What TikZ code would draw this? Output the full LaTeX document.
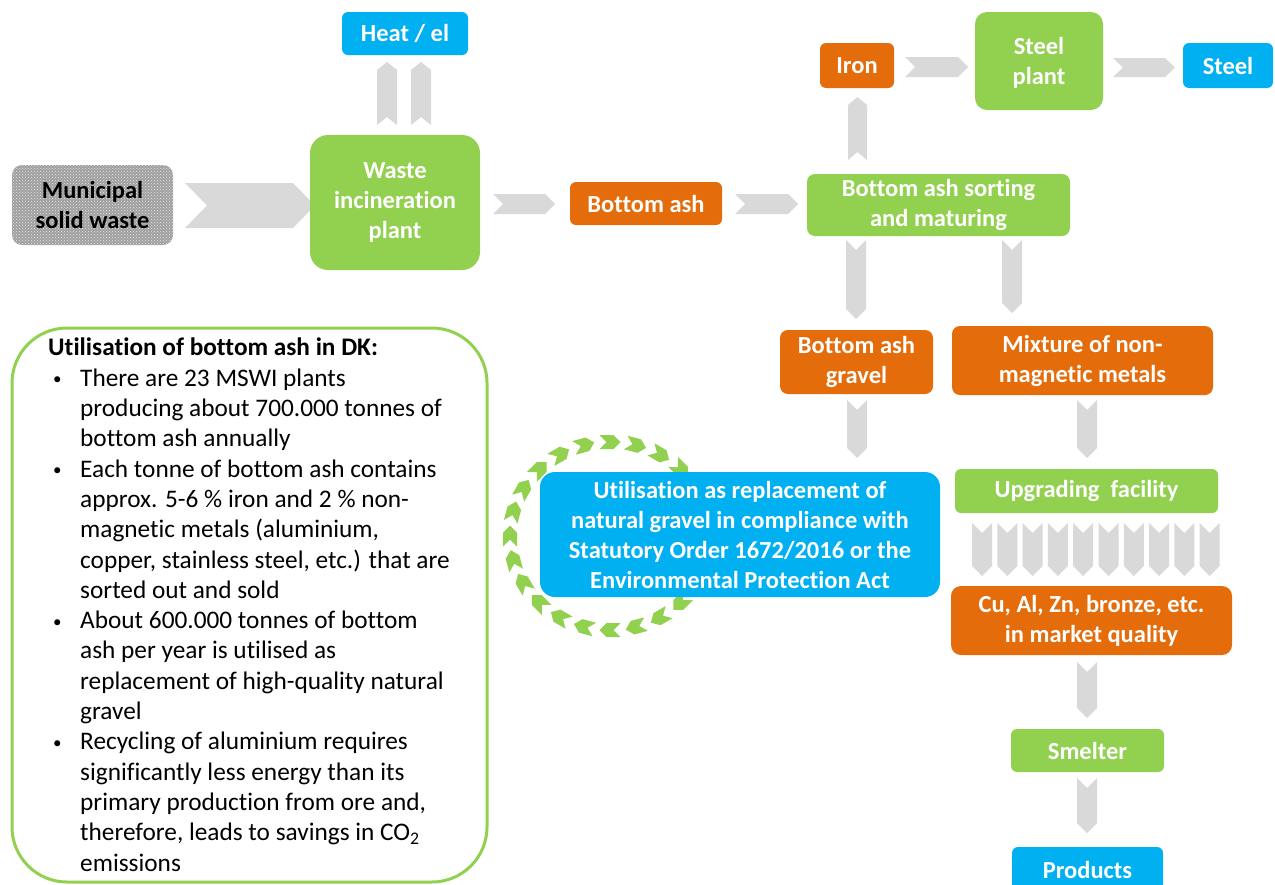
\documentclass[tikz,border=0pt]{standalone}
\usepackage{fontspec}
\setmainfont{Carlito}[Ligatures=NoCommon]
\usetikzlibrary{patterns}
\definecolor{ggreen}{HTML}{92D050}
\definecolor{gorange}{HTML}{E46C0A}
\definecolor{gblue}{HTML}{00B0F0}
\definecolor{agray}{HTML}{D9D9D9}
\definecolor{mswgray}{HTML}{A0A0A0}
% chevrons: x1 y1 x2 y2 depth
\newcommand\chevR[5]{\fill[chevfill] (#1,#2) -- ({#3-#5},#2) -- (#3,{(#2+#4)/2}) -- ({#3-#5},#4) -- (#1,#4) -- ({#1+#5},{(#2+#4)/2}) -- cycle;}
\newcommand\chevU[5]{\fill[chevfill] (#1,#4) -- ({(#1+#3)/2},{#4-#5}) -- (#3,#4) -- (#3,{#2+#5}) -- ({(#1+#3)/2},#2) -- (#1,{#2+#5}) -- cycle;}
\newcommand\chevD[5]{\fill[chevfill] (#1,#2) -- ({(#1+#3)/2},{#2+#5}) -- (#3,#2) -- (#3,{#4-#5}) -- ({(#1+#3)/2},#4) -- (#1,{#4-#5}) -- cycle;}
\newcommand\bul{\makebox[32pt][l]{\hspace{5pt}\raisebox{1.5pt}{\fontsize{17}{17}\selectfont •}}}
\newcommand\ind{\hspace*{32pt}}
\begin{document}
\begin{tikzpicture}[x=1pt,y=-1pt,
  chevfill/.style={fill=agray},
  box/.style={inner sep=0pt, align=center, text=white, font=\bfseries\fontsize{24.5}{30}\selectfont},
  gbox/.style={box, fill=ggreen},
  obox/.style={box, fill=gorange},
  bbox/.style={box, fill=gblue},
  ringchev/.style={fill=ggreen}
  ]
\clip (0,0) rectangle (1275,884);
\fill[white] (0,0) rectangle (1275,884);

% gray chevrons
\chevR{185}{183}{315}{228}{22}
\chevR{493}{194}{555}{214}{10}
\chevR{735}{194}{798}{214}{10}
\chevR{905}{57}{968}{77}{10}
\chevR{1113}{58}{1175}{77}{10}
\chevU{377}{62}{397}{125}{8}
\chevU{411}{62}{431}{125}{8}
\chevU{848}{97}{867}{160}{8}
\chevD{846}{240}{866}{319}{10}
\chevD{1002}{240}{1022}{313}{10}
\chevD{847}{400}{867}{458}{10}
\chevD{1077}{400}{1097}{458}{10}
\foreach \k in {0,...,9} {
  \pgfmathsetmacro\xa{972+25.3*\k}
  \pgfmathsetmacro\xb{\xa+20}
  \chevD{\xa}{523}{\xb}{576}{10}
}
\chevD{1077}{662}{1097}{718}{10}
\chevD{1077}{778}{1097}{833}{10}

% ring of green chevrons
\begin{scope}[shift={(610,536)}]
\foreach \a in {0,15,...,345} {
  \fill[ringchev, shift={(\a:100pt and 94pt)}, rotate=\a-90]
    (-10.5pt,7pt) -- (3.5pt,7pt) -- (10.5pt,0pt) -- (3.5pt,-7pt) -- (-10.5pt,-7pt) -- (-3.5pt,0pt) -- cycle;
}
\end{scope}

% boxes
\node[box, text=black, rounded corners=10pt, minimum width=161pt, minimum height=80pt,
  fill=mswgray, postaction={pattern=crosshatch dots, pattern color=white!75!mswgray}] (msw) at (92.5,205) {};
\node[box, text=black] (mswt) at (92.5,205) {Municipal\\solid waste};
\node[gbox, rounded corners=18pt, minimum width=170pt, minimum height=135pt] (wip) at (395,202.5) {Waste\\incineration\\plant};
\node[bbox, rounded corners=6pt, minimum width=126pt, minimum height=43pt] (heat) at (405,33.5) {Heat / el};
\node[obox, rounded corners=6pt, minimum width=152pt, minimum height=43pt] (bash) at (646,203.5) {Bottom ash};
\node[gbox, rounded corners=8pt, minimum width=263pt, minimum height=62pt] (sort) at (938.5,205) {Bottom ash sorting\\and maturing};
\node[obox, rounded corners=6pt, minimum width=74pt, minimum height=45pt] (iron) at (857,65.5) {Iron};
\node[gbox, rounded corners=12pt, minimum width=128pt, minimum height=98pt] (steelplant) at (1039,61) {};
\node[box] (steelplantt) at (1039,63) {Steel\\plant};
\node[bbox, rounded corners=6pt, minimum width=90pt, minimum height=45pt] (steel) at (1228,65.5) {Steel};
\node[obox, rounded corners=8pt, minimum width=153pt, minimum height=64pt] (gravel) at (856.5,362) {Bottom ash\\gravel};
\node[obox, rounded corners=8pt, minimum width=261pt, minimum height=69pt] (mix) at (1082.5,360.5) {Mixture of non-\\magnetic metals};
\node[gbox, rounded corners=6pt, minimum width=263pt, minimum height=44pt] (upg) at (1086.5,491) {Upgrading~ facility};
\node[obox, rounded corners=10pt, minimum width=281pt, minimum height=69pt] (cu) at (1091.5,620.5) {Cu, Al, Zn, bronze, etc.\\in market quality};
\node[gbox, rounded corners=6pt, minimum width=153pt, minimum height=43pt] (smelter) at (1087.5,750.5) {Smelter};
\node[bbox, rounded corners=6pt, minimum width=151pt, minimum height=45pt] (products) at (1087.5,869.5) {Products};
\node[bbox, rounded corners=15pt, minimum width=400pt, minimum height=125pt] (util) at (740,534.5) {Utilisation as replacement of\\natural gravel in compliance with\\Statutory Order 1672/2016 or the\\Environmental Protection Act};

% info box
\node[draw=ggreen, line width=3pt, rounded corners=55pt, minimum width=475pt, minimum height=554pt, inner sep=0pt] (infobox) at (249.5,605) {};
\node[anchor=north west, inner sep=0pt, align=left, font=\fontsize{25.3}{30.3}\selectfont] (infotext) at (48,338) {%
\textbf{Utilisation of bottom ash in DK:}\\
\bul There are 23 MSWI plants\\
\ind producing about 700.000 tonnes of\\
\ind bottom ash annually\\
\bul Each tonne of bottom ash contains\\
\ind approx. 5-6 \% iron and 2 \% non-\\
\ind magnetic metals (aluminium,\\
\ind copper, stainless steel, etc.) that are\\
\ind sorted out and sold\\
\bul About 600.000 tonnes of bottom\\
\ind ash per year is utilised as\\
\ind replacement of high-quality natural\\
\ind gravel\\
\bul Recycling of aluminium requires\\
\ind significantly less energy than its\\
\ind primary production from ore and,\\
\ind therefore, leads to savings in CO\textsubscript{2}\\
\ind emissions};
\end{tikzpicture}
\end{document}
